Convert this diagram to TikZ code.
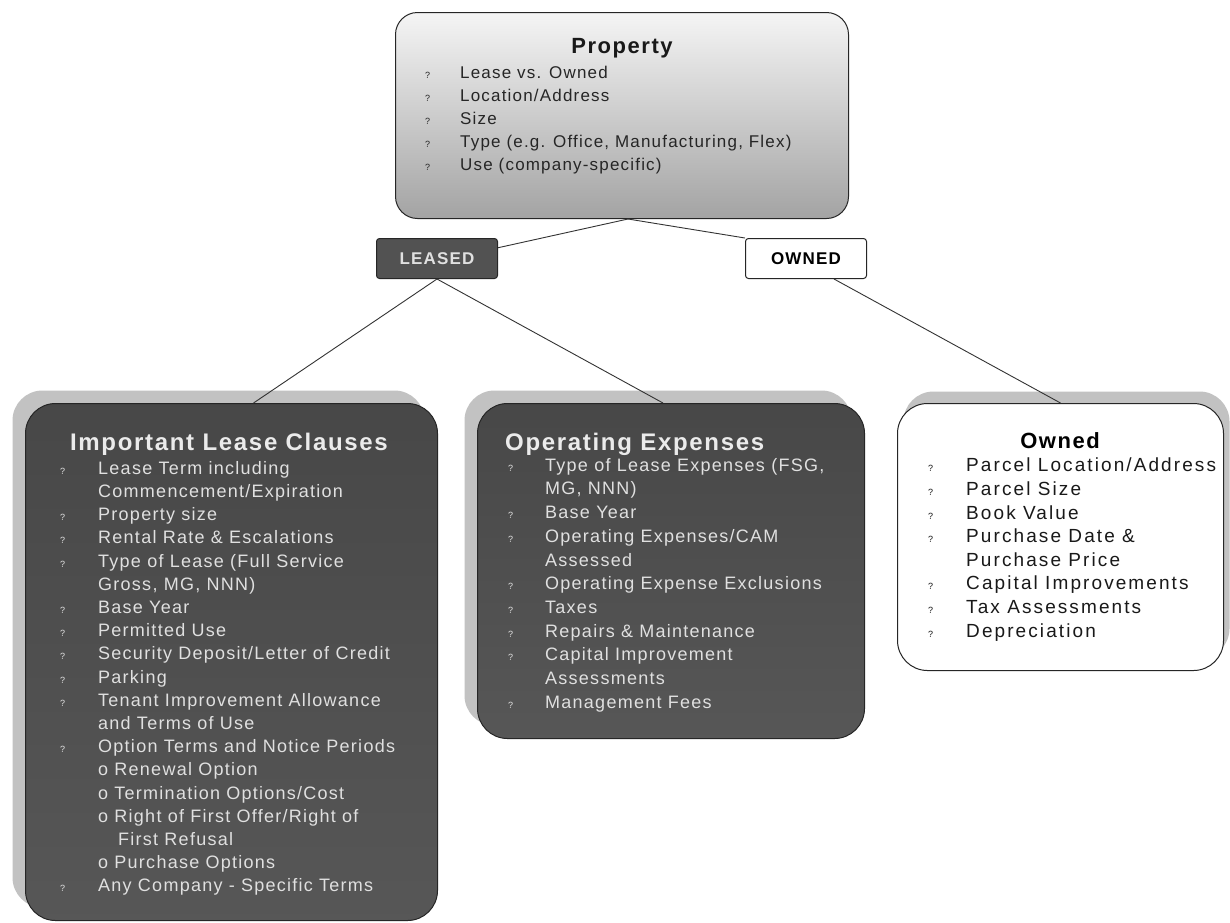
\documentclass[tikz,border=0pt]{standalone}
\usepackage{fontspec}
\setmainfont{Liberation Sans}
\newfontfamily\widefont[LetterSpace=7]{Liberation Sans}
\newfontfamily\widerfont[LetterSpace=11]{Liberation Sans}
\usetikzlibrary{positioning,shadows}

\newcommand{\qm}[1][38pt]{\makebox[#1][l]{\small ?}}
\newcommand{\ind}[1][38pt]{\hspace*{#1}}

\tikzset{
  box/.style={draw=black!85, line width=1pt, inner sep=0pt, anchor=north west},
  greybox/.style={box, rounded corners=22pt, top color=black!4, bottom color=black!36},
  darkbox/.style={box, rounded corners=30pt, top color=black!72, bottom color=black!66,
    general shadow={fill=black!24, shadow xshift=-13pt, shadow yshift=13pt}},
  whitebox/.style={box, rounded corners=30pt, fill=white,
    general shadow={fill=black!24, shadow xshift=6pt, shadow yshift=12pt}},
  tag/.style={box, minimum width=121pt, minimum height=40pt, rounded corners=3pt,
    font=\widefont\fontsize{17}{20}\selectfont\bfseries},
  title/.style={inner sep=0pt, font=\widefont\fontsize{22}{25}\selectfont\bfseries},
  bigtitle/.style={title, font=\widefont\fontsize{24}{27}\selectfont\bfseries},
  list/.style={inner sep=0pt, anchor=north west, align=left},
  link/.style={draw=black!80, line width=0.9pt}
}

\begin{document}
\begin{tikzpicture}[x=1pt, y=-1pt]
  \useasboundingbox[fill=white] (0,0) rectangle (1230,922);

  % top box
  \node (prop) [greybox, minimum width=453pt, minimum height=206pt] at (395,12) {};
  \node (propT) [title, text=black!90, below=26pt of prop.north] {Property};
  \node (propL) [list, text=black!85, font=\widefont\fontsize{17}{23.1}\selectfont] at (425,66)
    {\qm[35pt]Lease vs. Owned\\
     \qm[35pt]Location/Address\\
     \qm[35pt]Size\\
     \qm[35pt]Type (e.g. Office, Manufacturing, Flex)\\
     \qm[35pt]Use (company-specific)};

  % the two branches
  \node (leased) [tag, fill=black!68, text=black!12] at (376,238) {LEASED};
  \node (owned)  [tag, fill=white, text=black] at (745,238) {OWNED};

  % lease clauses
  \node (clauses) [darkbox, minimum width=412pt, minimum height=517pt] at (25,403) {};
  \node (clausesT) [bigtitle, text=black!8] at (229,444) {Important Lease Clauses};
  \node (clausesL) [list, text=black!12, font=\widefont\fontsize{18}{23.2}\selectfont] at (60,461)
    {\qm Lease Term including\\
     \ind Commencement/Expiration\\
     \qm Property size\\
     \qm Rental Rate \& Escalations\\
     \qm Type of Lease (Full Service\\
     \ind Gross, MG, NNN)\\
     \qm Base Year\\
     \qm Permitted Use\\
     \qm Security Deposit/Letter of Credit\\
     \qm Parking\\
     \qm Tenant Improvement Allowance\\
     \ind and Terms of Use\\
     \qm Option Terms and Notice Periods\\
     \ind o Renewal Option\\
     \ind o Termination Options/Cost\\
     \ind o Right of First Offer/Right of\\
     \ind[58pt]First Refusal\\
     \ind o Purchase Options\\
     \qm Any Company - Specific Terms};

  % operating expenses
  \node (opex) [darkbox, minimum width=387pt, minimum height=335pt] at (477,403) {};
  \node (opexT) [bigtitle, text=black!8, anchor=west] at (505,444) {Operating Expenses};
  \node (opexL) [list, text=black!12, font=\widefont\fontsize{18}{23.7}\selectfont] at (508,458)
    {\qm[37pt]Type of Lease Expenses (FSG,\\
     \ind[37pt]MG, NNN)\\
     \qm[37pt]Base Year\\
     \qm[37pt]Operating Expenses/CAM\\
     \ind[37pt]Assessed\\
     \qm[37pt]Operating Expense Exclusions\\
     \qm[37pt]Taxes\\
     \qm[37pt]Repairs \& Maintenance\\
     \qm[37pt]Capital Improvement\\
     \ind[37pt]Assessments\\
     \qm[37pt]Management Fees};

  % owned property
  \node (ownd) [whitebox, minimum width=326pt, minimum height=267pt] at (897,403) {};
  \node (owndT) [title, text=black] at (1060,441) {Owned};
  \node (owndL) [list, text=black!90, font=\widerfont\fontsize{19}{23.6}\selectfont] at (928,458)
    {\qm Parcel Location/Address\\
     \qm Parcel Size\\
     \qm Book Value\\
     \qm Purchase Date \&\\
     \ind Purchase Price\\
     \qm Capital Improvements\\
     \qm Tax Assessments\\
     \qm Depreciation};

  % connectors
  \draw[link] ([xshift=6pt]prop.south) -- (leased.10);
  \draw[link] ([xshift=6pt]prop.south) -- (owned.north west);
  \draw[link] (leased.south) -- ([xshift=22pt]clauses.north);
  \draw[link] (leased.south) -- ([xshift=-8pt]opex.north);
  \draw[link] ([xshift=28pt]owned.south) -- (ownd.north);
\end{tikzpicture}
\end{document}
